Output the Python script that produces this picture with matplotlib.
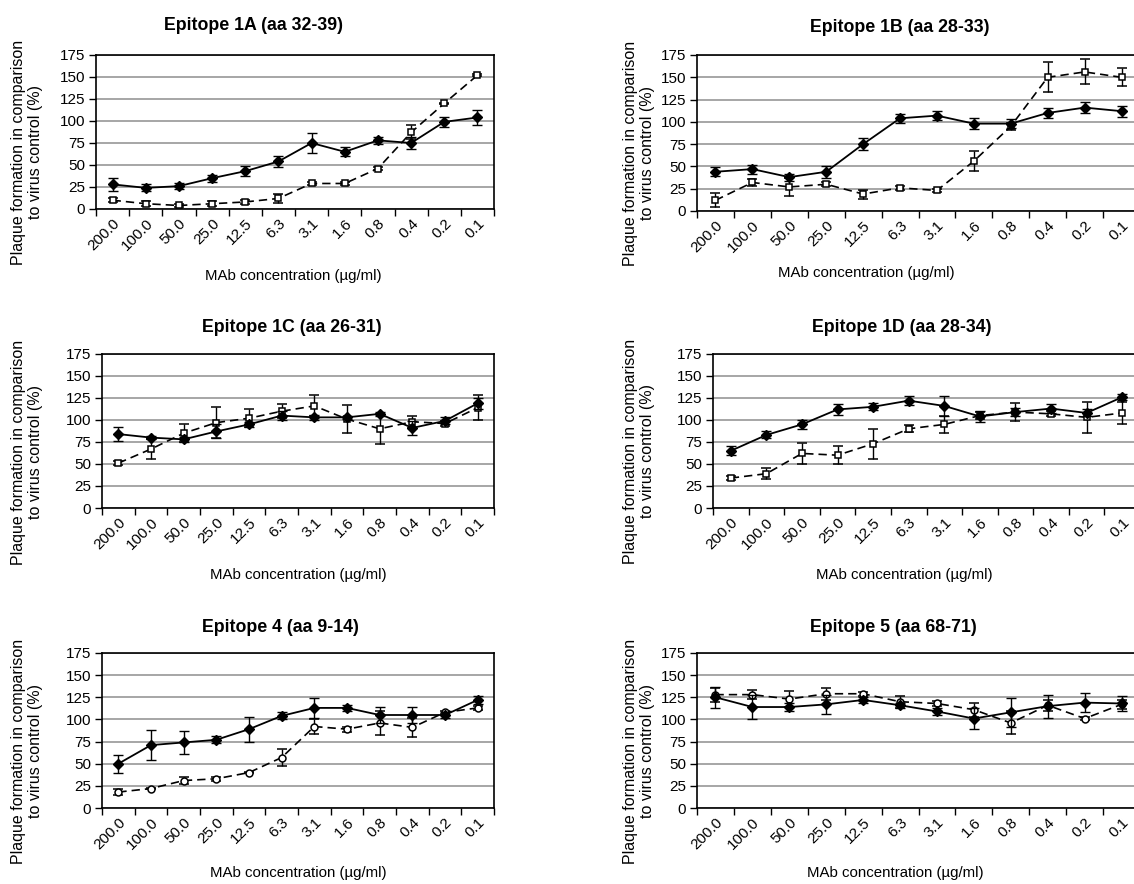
import matplotlib
matplotlib.use("Agg")
import matplotlib.pyplot as plt

plt.rcParams['font.family'] = ['Liberation Sans', 'DejaVu Sans']

# concentration categories (µg/ml)
concentrations = ['200.0', '100.0', '50.0', '25.0', '12.5', '6.3', '3.1', '1.6', '0.8', '0.4', '0.2', '0.1']
yticks = [0, 25, 50, 75, 100, 125, 150, 175]

titles = ['Epitope 1A (aa 32-39)', 'Epitope 1B (aa 28-33)', 'Epitope 1C (aa 26-31)',
          'Epitope 1D (aa 28-34)', 'Epitope 4 (aa 9-14)', 'Epitope 5 (aa 68-71)']

# solid line (filled diamonds)
solid_1a = [28, 24, 26, 35, 43, 54, 75, 65, 78, 75, 99, 104]
solid_1a_err = [7, 4, 3, 4, 6, 6, 11, 5, 4, 7, 6, 9]
solid_1b = [44, 47, 38, 44, 75, 104, 107, 98, 98, 110, 116, 112]
solid_1b_err = [5, 5, 4, 7, 7, 5, 5, 6, 5, 6, 6, 6]
solid_1c = [84, 80, 78, 87, 95, 105, 103, 103, 107, 91, 99, 119]
solid_1c_err = [8, 2, 3, 8, 3, 5, 3, 2, 2, 8, 4, 6]
solid_1d = [65, 83, 95, 112, 115, 122, 116, 104, 109, 113, 108, 126]
solid_1d_err = [5, 4, 5, 6, 4, 5, 11, 6, 5, 5, 4, 3]
solid_4 = [50, 71, 74, 77, 89, 104, 113, 113, 105, 105, 105, 122]
solid_4_err = [10, 17, 13, 4, 14, 4, 11, 3, 9, 9, 3, 5]
solid_5 = [125, 114, 114, 117, 122, 116, 109, 101, 108, 115, 119, 118]
solid_5_err = [12, 14, 4, 11, 3, 3, 4, 12, 16, 13, 11, 9]

# dashed line (open markers)
dashed_1a = [10, 6, 4, 6, 8, 12, 29, 29, 46, 87, 120, 152]
dashed_1a_err = [2, 3, 2, 3, 2, 5, 2, 2, 2, 8, 1, 1]
dashed_1b = [12, 32, 27, 30, 19, 26, 23, 56, 95, 150, 156, 150]
dashed_1b_err = [8, 4, 10, 2, 5, 2, 2, 11, 4, 17, 14, 10]
dashed_1c = [51, 67, 85, 97, 102, 110, 116, 101, 90, 98, 96, 114]
dashed_1c_err = [2, 11, 10, 18, 10, 8, 12, 16, 17, 7, 3, 14]
dashed_1d = [34, 39, 62, 60, 73, 90, 95, 105, 109, 107, 103, 108]
dashed_1d_err = [2, 6, 12, 10, 17, 4, 10, 4, 10, 3, 18, 13]
dashed_4 = [18, 22, 31, 33, 40, 57, 92, 89, 96, 91, 108, 113]
dashed_4_err = [3, 1, 4, 2, 1, 10, 8, 3, 14, 11, 2, 2]
dashed_5 = [128, 128, 123, 129, 129, 120, 118, 111, 96, 116, 101, 117]
dashed_5_err = [8, 5, 9, 7, 2, 7, 3, 8, 13, 6, 2, 5]

W, H = 1134, 884
fig = plt.figure(figsize=(W / 100, H / 100), dpi=100)


def px_axes(left, top, right, bottom):
    return fig.add_axes([left / W, 1 - bottom / H, (right - left) / W, (bottom - top) / H])


panels = [
    # axes box, title pos, xlabel pos, ylabel pos, solid, solid err, dashed, dashed err, open marker
    ((96, 55, 494, 209), (253, 25), (293, 276), (27, 152), solid_1a, solid_1a_err, dashed_1a, dashed_1a_err, 's'),
    ((697, 55, 1140, 211), (900, 27), (866, 273), (639, 153), solid_1b, solid_1b_err, dashed_1b, dashed_1b_err, 's'),
    ((102, 354, 494, 508), (292, 327), (298, 575), (27, 452), solid_1c, solid_1c_err, dashed_1c, dashed_1c_err, 's'),
    ((713, 354, 1140, 508), (902, 327), (904, 575), (639, 451), solid_1d, solid_1d_err, dashed_1d, dashed_1d_err, 's'),
    ((102, 653, 494, 808), (280, 627), (298, 873), (27, 751), solid_4, solid_4_err, dashed_4, dashed_4_err, 'o'),
    ((697, 653, 1140, 808), (893, 627), (895, 873), (639, 751), solid_5, solid_5_err, dashed_5, dashed_5_err, 'o'),
]

x = [i + 0.5 for i in range(len(concentrations))]

for title, (box, tpos, xlpos, ylpos, s, se, d, de, mk) in zip(titles, panels):
    ax = px_axes(*box)
    ax.set_xlim(0, len(concentrations))
    ax.set_ylim(0, 175)
    ax.set_yticks(yticks)
    ax.set_yticklabels([str(v) for v in yticks], fontsize=11)
    ax.yaxis.grid(True, color='#a6a6a6', linewidth=1.4)
    ax.set_axisbelow(True)
    # category boundaries get the tick marks, labels sit at category centres
    ax.set_xticks(range(len(concentrations) + 1))
    ax.set_xticklabels([])
    ax.set_xticks(x, minor=True)
    ax.set_xticklabels(concentrations, minor=True, rotation=45, ha='right',
                       rotation_mode='anchor', fontsize=11)
    ax.tick_params(axis='x', which='minor', length=0, pad=5)
    ax.tick_params(axis='x', which='major', length=5, width=1, direction='out')
    ax.tick_params(axis='y', length=5, width=1, direction='out', pad=3)
    for sp in ax.spines.values():
        sp.set_linewidth(1.2)
        sp.set_color('black')

    ax.errorbar(x, d, yerr=de, color='black', linestyle=(0, (5, 3)), linewidth=1.2,
                marker=mk, markersize=5, markerfacecolor='white', markeredgecolor='black',
                markeredgewidth=1.1, ecolor='black', elinewidth=1, capsize=3.5, capthick=1, zorder=3)
    ax.errorbar(x, s, yerr=se, color='black', linestyle='-', linewidth=1.3,
                marker='D', markersize=5.5, markerfacecolor='black', markeredgecolor='black',
                ecolor='black', elinewidth=1, capsize=3.5, capthick=1, zorder=4)

    fig.text(tpos[0] / W, 1 - tpos[1] / H, title, ha='center', va='center',
             fontsize=12.8, fontweight='bold')
    fig.text(xlpos[0] / W, 1 - xlpos[1] / H, 'MAb concentration (µg/ml)', ha='center',
             va='center', fontsize=10.8)
    fig.text(ylpos[0] / W, 1 - ylpos[1] / H, 'Plaque formation in comparison\nto virus control (%)',
             ha='center', va='center', rotation=90, multialignment='center',
             fontsize=11.5, linespacing=1.15)

fig.savefig('out.png', dpi=100)
